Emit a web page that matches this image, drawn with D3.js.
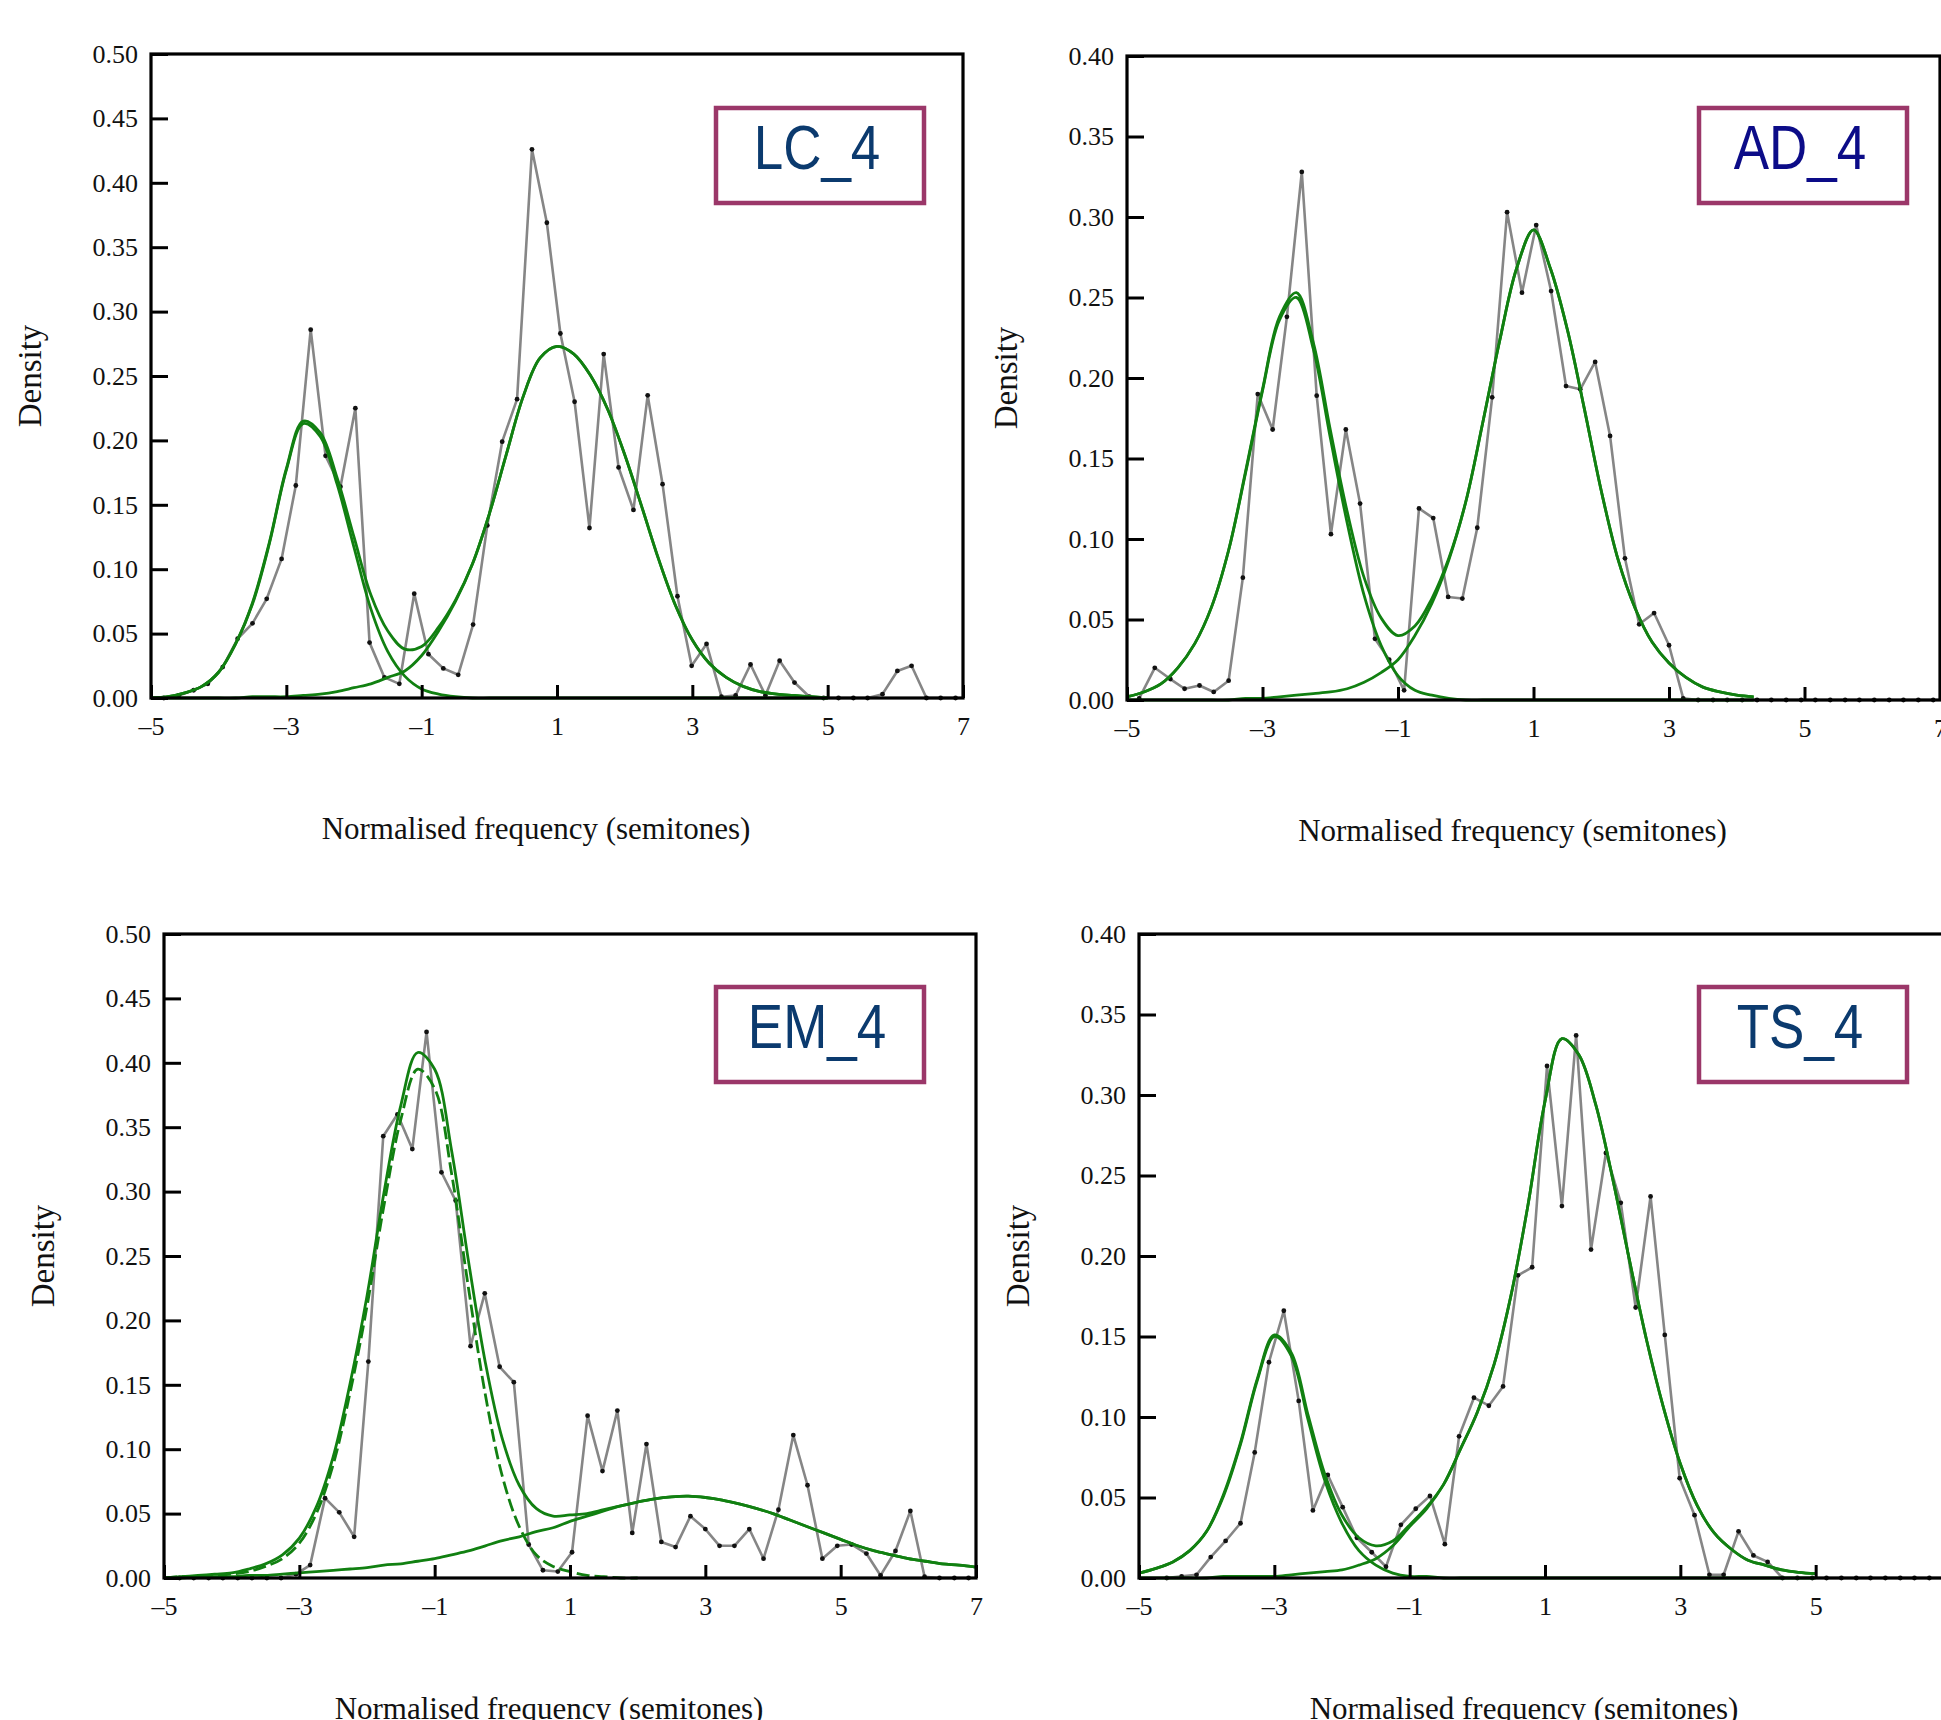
<!DOCTYPE html>
<html>
<head>
<meta charset="utf-8">
<script src="https://cdn.jsdelivr.net/npm/d3@7"></script>
<style>
  body { margin: 0; background: #fff; }
  svg { display: block; }
</style>
</head>
<body>
<svg id="chart" width="1941" height="1720"></svg>
<script>
// ---- values ----

var panelNames = ["LC_4", "AD_4", "EM_4", "TS_4"];
var yMaxes = [0.5, 0.4, 0.5, 0.4];
var xTicks = [-5, -3, -1, 1, 3, 5, 7];

// histogram densities (grey line + dots)
var lcX = [-4.81,-4.59,-4.37,-4.16,-3.94,-3.72,-3.50,-3.29,-3.07,-2.86,-2.64,-2.42,-2.20,-1.98,-1.77,-1.55,-1.33,-1.11,-0.90,-0.68,
  -0.46,-0.24,-0.03,0.19,0.41,0.63,0.85,1.05,1.26,1.48,1.69,1.91,2.13,2.34,2.56,2.78,2.99,3.21,3.43,3.64,3.86,4.08,4.29,4.51,4.73,
  4.94,5.16,5.38,5.59,5.81,6.03,6.24,6.46,6.67,6.89];
var lcY = [0,0.002,0.006,0.011,0.024,0.046,0.058,0.077,0.108,0.165,0.286,0.188,0.164,0.225,0.043,0.016,0.011,0.081,0.034,0.023,
  0.018,0.057,0.134,0.199,0.232,0.426,0.369,0.283,0.230,0.132,0.267,0.179,0.146,0.235,0.166,0.079,0.025,0.042,0.001,0.002,0.026,0.002,0.029,0.012,0.001,
  0,0,0,0,0.003,0.021,0.025,0,0,0];

var adX = [-4.82,-4.59,-4.36,-4.15,-3.93,-3.72,-3.50,-3.29,-3.07,-2.85,-2.64,-2.42,-2.20,-1.99,-1.77,-1.56,-1.34,-1.13,-0.91,-0.69,
  -0.48,-0.26,-0.05,0.17,0.39,0.61,0.83,1.04,1.26,1.48,1.69,1.91,2.13,2.35,2.56,2.78,3.00,3.21,3.43,3.65,3.86,4.08,4.30,4.51,4.73,
  4.95,5.16,5.38,5.60,5.81,6.03,6.25,6.46,6.68,6.90];
var adY = [0.001,0.020,0.013,0.007,0.009,0.005,0.012,0.076,0.190,0.168,0.238,0.328,0.189,0.103,0.168,0.122,0.038,0.025,0.006,0.119,
  0.113,0.064,0.063,0.107,0.188,0.303,0.253,0.295,0.254,0.195,0.193,0.210,0.164,0.088,0.047,0.054,0.034,0.001,0,0,0,0,0,0,0,
  0,0,0,0,0,0,0,0,0,0];

var emX = [-4.77,-4.56,-4.34,-4.13,-3.91,-3.70,-3.48,-3.27,-3.05,-2.84,-2.62,-2.41,-2.19,-1.98,-1.76,-1.55,-1.33,-1.12,-0.90,-0.69,
  -0.47,-0.26,-0.04,0.17,0.39,0.60,0.82,1.03,1.26,1.48,1.70,1.92,2.13,2.35,2.56,2.78,3.00,3.21,3.43,3.65,3.86,4.08,4.30,4.51,4.73,
  4.95,5.16,5.38,5.59,5.81,6.03,6.24,6.46,6.68,6.89];
var emY = [0,0,0,0,0,0,0,0,0.003,0.010,0.062,0.051,0.032,0.168,0.343,0.360,0.333,0.424,0.315,0.293,
  0.180,0.221,0.164,0.152,0.026,0.006,0.005,0.020,0.126,0.083,0.130,0.035,0.104,0.028,0.024,0.048,0.038,0.025,0.025,0.038,0.015,0.053,0.111,0.072,0.015,
  0.025,0.026,0.019,0.002,0.021,0.052,0.001,0,0,0];

var tsX = [-4.59,-4.37,-4.15,-3.94,-3.72,-3.50,-3.29,-3.08,-2.86,-2.64,-2.43,-2.21,-1.99,-1.78,-1.56,-1.35,-1.13,-0.91,-0.70,-0.48,
  -0.27,-0.05,0.17,0.38,0.60,0.81,1.03,1.25,1.46,1.68,1.90,2.12,2.34,2.56,2.77,2.99,3.21,3.43,3.64,3.86,4.08,4.29,4.51,4.73,
  4.95,5.16,5.38,5.60,5.81,6.03,6.25,6.46,6.68,6.90];
var tsY = [0,0.001,0.002,0.013,0.023,0.034,0.078,0.134,0.166,0.110,0.042,0.064,0.044,0.025,0.016,0.007,0.033,0.043,0.051,0.021,
  0.088,0.112,0.107,0.119,0.188,0.193,0.318,0.231,0.337,0.204,0.264,0.233,0.168,0.237,0.151,0.062,0.039,0.002,0.002,0.029,0.014,0.010,0,0,
  0,0,0,0,0,0,0,0,0,0];

// fitted components, read at these positions (null = not drawn)
var gridX = [-5,-4.75,-4.5,-4.25,-4,-3.75,-3.5,-3.25,-3,-2.75,-2.5,-2.25,-2,-1.75,-1.5,-1.25,-1,-0.75,-0.5,-0.25,
  0,0.25,0.5,0.75,1,1.25,1.5,1.75,2,2.25,2.5,2.75,3,3.25,3.5,3.75,4,4.25,4.5,4.75,5,5.25,5.5,5.75,6,6.25,6.5,6.75,7];

var lcComp1 = [0,0.001,0.004,0.009,0.020,0.042,0.073,0.120,0.177,0.213,0.203,0.166,0.117,0.069,0.036,0.017,0.007,0.003,0.001,0,
  0,0,0,0,0,0,0,0,0,0,0,0,0,0,0,0,0,0,0,0,0,null,null,null,null,null,null,null,null];
var lcComp2 = [0,0,0,0,0,0,0.001,0.001,0.001,0.002,0.003,0.005,0.008,0.011,0.016,0.021,0.033,0.052,0.075,0.104,
  0.143,0.189,0.234,0.264,0.273,0.267,0.250,0.224,0.189,0.149,0.108,0.072,0.045,0.027,0.016,0.009,0.005,0.003,0.002,0.001,0,
  null,null,null,null,null,null,null,null];

var adComp1 = [0.002,0.005,0.010,0.020,0.035,0.058,0.093,0.141,0.192,0.236,0.250,0.218,0.163,0.110,0.065,0.034,0.015,0.006,0.003,0.001,
  0,0,0,0,0,0,0,0,0,0,0,0,0,0,0,0,0,0,null,null,null,null,null,null,null,null,null,null,null];
var adComp2 = [0,0,0,0,0,0,0,0.001,0.001,0.002,0.003,0.004,0.005,0.007,0.011,0.017,0.025,0.040,0.060,0.087,
  0.123,0.172,0.223,0.268,0.292,0.268,0.230,0.181,0.130,0.087,0.057,0.036,0.023,0.014,0.008,0.005,0.003,0.002,
  null,null,null,null,null,null,null,null,null,null,null];

var emComp1 = [0,0.001,0.001,0.002,0.003,0.005,0.009,0.015,0.027,0.050,0.088,0.144,0.211,0.289,0.356,0.395,0.380,0.314,0.225,0.142,
  0.079,0.040,0.018,0.009,0.005,0.002,0.001,0,0,null,null,null,null,null,null,null,null,null,null,null,null,null,null,null,null,null,null,null,null];
var emComp2 = [0,0,0.001,0.001,0.001,0.002,0.002,0.003,0.004,0.005,0.006,0.007,0.008,0.010,0.011,0.013,0.015,0.018,0.021,0.025,
  0.029,0.032,0.036,0.039,0.044,0.048,0.052,0.056,0.059,0.0615,0.063,0.0635,0.0625,0.0605,0.0575,0.054,0.050,0.045,0.040,0.035,
  0.030,0.025,0.021,0.018,0.015,0.013,0.011,0.010,0.0085];

var tsComp1 = [0.003,0.006,0.010,0.017,0.029,0.051,0.083,0.123,0.150,0.138,0.098,0.060,0.034,0.017,0.008,0.003,0.001,0.001,0,0,
  0,0,0,0,0,0,0,0,0,0,0,0,0,0,0,0,0,0,0,0,0,null,null,null,null,null,null,null,null];
var tsComp2 = [0,0,0,0,0,0.001,0.001,0.001,0.001,0.002,0.003,0.004,0.005,0.008,0.012,0.020,0.032,0.043,0.058,0.080,
  0.103,0.133,0.176,0.232,0.296,0.335,0.325,0.294,0.248,0.197,0.148,0.106,0.071,0.045,0.028,0.018,0.011,0.008,0.005,0.0035,0.0027,
  null,null,null,null,null,null,null,null];

// ---- layout / style ----
var layout = [
  {left: 151,  top: 54,  width: 812, height: 644, box: [716, 108],  ink: "#0b3a6e"},
  {left: 1127, top: 56,  width: 813, height: 644, box: [1699, 108], ink: "#0c0c88"},
  {left: 164,  top: 934, width: 812, height: 644, box: [716, 987],  ink: "#0b3a6e"},
  {left: 1139, top: 934, width: 812, height: 644, box: [1699, 987], ink: "#0b3a6e"}
];
var boxW = 208, boxH = 95;
var green = "#118011", grey = "#868686";

var panels = [
  {dataX: lcX, dataY: lcY, comps: [lcComp1, lcComp2], dashed: [false, false]},
  {dataX: adX, dataY: adY, comps: [adComp1, adComp2], dashed: [false, false]},
  {dataX: emX, dataY: emY, comps: [emComp1, emComp2], dashed: [true, false]},
  {dataX: tsX, dataY: tsY, comps: [tsComp1, tsComp2], dashed: [false, false]}
];

var svg = d3.select("#chart");
var defs = svg.append("defs");

function minusLabel(d) {
  return d < 0 ? "\u2013" + Math.abs(d) : String(d);
}

panels.forEach(function(p, i) {
  var L = layout[i];
  var x = d3.scaleLinear().domain([-5, 7]).range([L.left, L.left + L.width]);
  var y = d3.scaleLinear().domain([0, yMaxes[i]]).range([L.top + L.height, L.top]);

  var g = svg.append("g").classed("panel", true);

  defs.append("clipPath").attr("id", "clip" + i)
    .append("rect")
      .attr("x", L.left).attr("y", L.top - 3)
      .attr("width", L.width).attr("height", L.height + 6);

  var plot = g.append("g").attr("clip-path", "url(#clip" + i + ")");

  // histogram line + dots
  var pts = p.dataX.map(function(v, k) { return [v, p.dataY[k]]; });
  plot.append("path")
    .datum(pts)
    .attr("fill", "none")
    .attr("stroke", grey)
    .attr("stroke-width", 2.6)
    .attr("stroke-linejoin", "round")
    .attr("d", d3.line().x(function(d) { return x(d[0]); }).y(function(d) { return y(d[1]); }));

  plot.selectAll(".dot")
    .data(pts)
    .enter()
    .append("circle")
      .classed("dot", true)
      .attr("cx", function(d) { return x(d[0]); })
      .attr("cy", function(d) { return y(d[1]); })
      .attr("r", 2.4)
      .attr("fill", "#111");

  // fitted curves
  var smooth = d3.line()
    .defined(function(d) { return d[1] != null; })
    .x(function(d) { return x(d[0]); })
    .y(function(d) { return y(d[1]); })
    .curve(d3.curveCatmullRom.alpha(0.5));

  p.comps.forEach(function(c, ci) {
    plot.append("path")
      .datum(gridX.map(function(v, k) { return [v, c[k]]; }))
      .attr("fill", "none")
      .attr("stroke", green)
      .attr("stroke-width", 2.8)
      .attr("stroke-dasharray", p.dashed[ci] ? "13,5" : null)
      .attr("d", smooth);
  });

  // mixture total = sum of the two components
  var total = gridX.map(function(v, k) {
    var a = p.comps[0][k], b = p.comps[1][k];
    if (a == null && b == null) return [v, null];
    return [v, (a || 0) + (b || 0)];
  });
  plot.append("path")
    .datum(total)
    .attr("fill", "none")
    .attr("stroke", green)
    .attr("stroke-width", 2.8)
    .attr("d", smooth);

  // frame
  g.append("rect")
    .attr("x", L.left).attr("y", L.top)
    .attr("width", L.width).attr("height", L.height)
    .attr("fill", "none")
    .attr("stroke", "#000")
    .attr("stroke-width", 3.2);

  // y axis, ticks pointing inwards
  var yAxis = g.append("g")
    .attr("transform", "translate(" + L.left + ",0)")
    .call(d3.axisLeft(y)
      .tickValues(d3.ticks(0, yMaxes[i], Math.round(yMaxes[i] / 0.05)))
      .tickSize(-17)
      .tickPadding(13)
      .tickFormat(d3.format(".2f")));
  yAxis.select(".domain").remove();
  yAxis.selectAll(".tick line").attr("stroke", "#000").attr("stroke-width", 3);
  yAxis.selectAll("text")
    .style("font-family", "'Liberation Serif', serif")
    .style("font-size", "26px")
    .attr("fill", "#111");

  // x axis
  var xAxis = g.append("g")
    .attr("transform", "translate(0," + (L.top + L.height) + ")")
    .call(d3.axisBottom(x)
      .tickValues(xTicks)
      .tickSize(-13)
      .tickPadding(19)
      .tickFormat(minusLabel));
  xAxis.select(".domain").remove();
  xAxis.selectAll(".tick line").attr("stroke", "#000").attr("stroke-width", 3);
  xAxis.selectAll("text")
    .style("font-family", "'Liberation Serif', serif")
    .style("font-size", "26px")
    .attr("fill", "#111");

  // axis titles
  g.append("text")
    .attr("transform", "translate(" + (L.left - 121) + "," + (L.top + L.height / 2) + ") rotate(-90)")
    .attr("text-anchor", "middle")
    .attr("dominant-baseline", "central")
    .style("font-family", "'Liberation Serif', serif")
    .style("font-size", "33px")
    .attr("fill", "#111")
    .text("Density");

  g.append("text")
    .attr("x", L.left + L.width / 2 - 21)
    .attr("y", L.top + L.height + 141)
    .attr("text-anchor", "middle")
    .style("font-family", "'Liberation Serif', serif")
    .style("font-size", "31px")
    .attr("fill", "#111")
    .text("Normalised frequency (semitones)");

  // name box
  g.append("rect")
    .attr("x", L.box[0]).attr("y", L.box[1])
    .attr("width", boxW).attr("height", boxH)
    .attr("fill", "#fff")
    .attr("stroke", "#9b3769")
    .attr("stroke-width", 4.5);

  g.append("text")
    .attr("transform", "translate(" + (L.box[0] + boxW / 2 - 3) + "," + (L.box[1] + 60.5) + ") scale(1,1.18)")
    .attr("text-anchor", "middle")
    .style("font-family", "'Liberation Sans', Arial, sans-serif")
    .style("font-size", "53px")
    .attr("fill", L.ink)
    .text(panelNames[i]);
});
</script>
</body>
</html>
